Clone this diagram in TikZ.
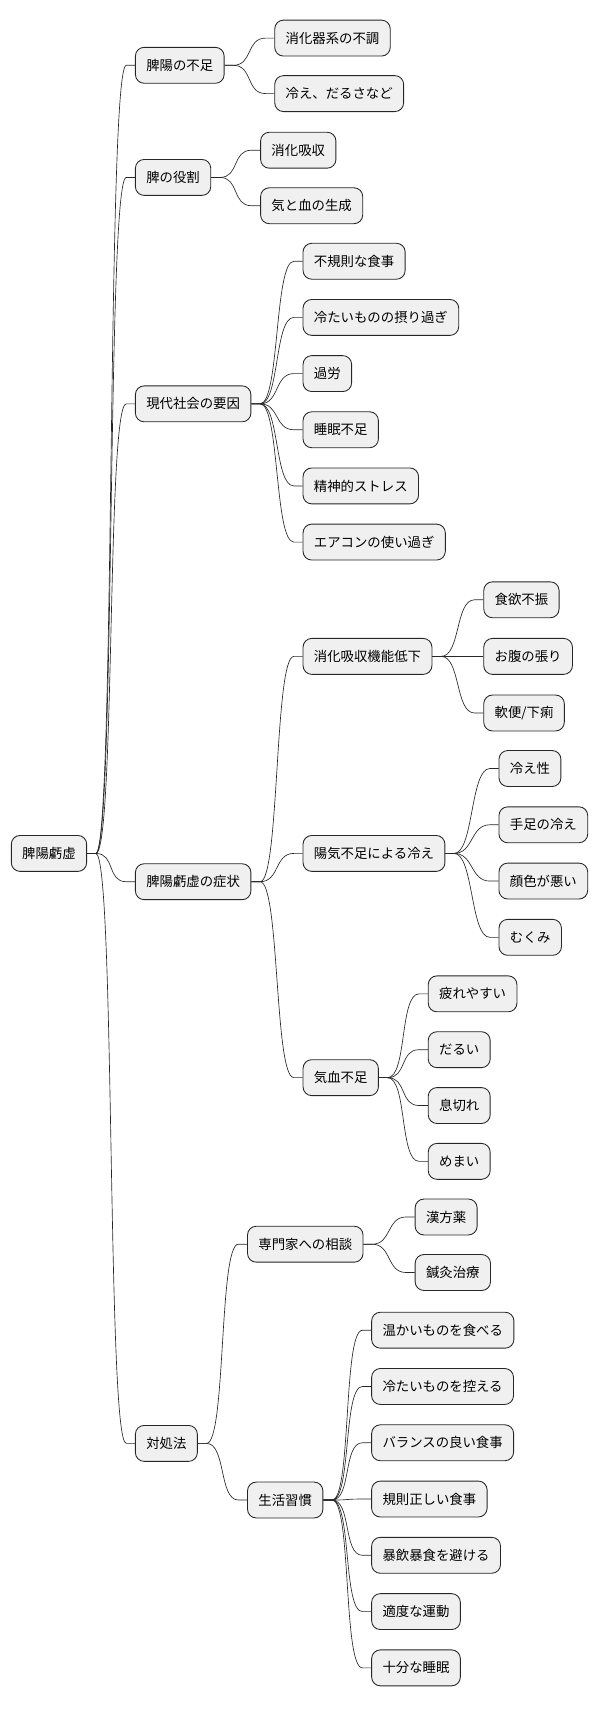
\documentclass[tikz,border=0pt]{standalone}
\usepackage{fontspec}
\setmainfont{Noto Sans CJK JP}
\usetikzlibrary{positioning}
\tikzset{
  topic/.style={draw=black!85, thick, rounded corners=8pt, fill=black!6, anchor=west,
    minimum height=33pt, inner xsep=10pt, font=\fontsize{12.3}{14}\selectfont},
  branch/.style={draw=black!85, line width=0.6pt},
}
\newcommand{\linkto}[2]{\draw[branch] (#1.east) -- ++(8pt,0) .. controls +(18pt,0) and +(-18pt,0) .. ([xshift=-8pt]#2.west) -- (#2.west);}
\begin{document}
\begin{tikzpicture}[x=1pt, y=-1pt]
  \useasboundingbox (0,0) rectangle (550,1570);
  % Root and first level
  \node [topic] (root) at (10,784) {脾陽虧虚};
  \node [topic] (lack) at (124,60) {脾陽の不足};
  \node [topic] (role) at (124,163) {脾の役割};
  \node [topic] (cause) at (124,371) {現代社会の要因};
  \node [topic] (symp) at (124,810) {脾陽虧虚の症状};
  \node [topic] (cope) at (124,1326) {対処法};
  \foreach \n in {lack,role,cause,symp,cope} {\linkto{root}{\n}}

  % Second level
  \node [topic] (lackA) at (252,35) {消化器系の不調};
  \node [topic] (lackB) at (252,86) {冷え、だるさなど};
  \node [topic] (roleA) at (239,138) {消化吸収};
  \node [topic] (roleB) at (239,189) {気と血の生成};
  \foreach \n in {lackA,lackB} {\linkto{lack}{\n}}
  \foreach \n in {roleA,roleB} {\linkto{role}{\n}}

  \foreach \t [count=\i] in {不規則な食事,冷たいものの摂り過ぎ,過労,睡眠不足,精神的ストレス,エアコンの使い過ぎ} {
    \node [topic] (cause\i) at (278,{240+(\i-1)*51.6}) {\t};
    \linkto{cause}{cause\i}
  }

  \node [topic] (digest) at (278,603) {消化吸収機能低下};
  \node [topic] (cold) at (278,784) {陽気不足による冷え};
  \node [topic] (qi) at (278,990) {気血不足};
  \foreach \n in {digest,cold,qi} {\linkto{symp}{\n}}

  \node [topic] (expert) at (227,1143) {専門家への相談};
  \node [topic] (life) at (227,1378) {生活習慣};
  \foreach \n in {expert,life} {\linkto{cope}{\n}}

  % Third level
  \foreach \t [count=\i] in {食欲不振,お腹の張り,軟便/下痢} {
    \node [topic] (digest\i) at (444,{551+(\i-1)*52}) {\t};
    \linkto{digest}{digest\i}
  }
  \foreach \t [count=\i] in {冷え性,手足の冷え,顔色が悪い,むくみ} {
    \node [topic] (cold\i) at (458,{706+(\i-1)*51.7}) {\t};
    \linkto{cold}{cold\i}
  }
  \foreach \t [count=\i] in {疲れやすい,だるい,息切れ,めまい} {
    \node [topic] (qi\i) at (393,{913+(\i-1)*51.3}) {\t};
    \linkto{qi}{qi\i}
  }
  \node [topic] (expert1) at (381,1118) {漢方薬};
  \node [topic] (expert2) at (381,1169) {鍼灸治療};
  \foreach \n in {expert1,expert2} {\linkto{expert}{\n}}
  \foreach \t [count=\i] in {温かいものを食べる,冷たいものを控える,バランスの良い食事,規則正しい食事,暴飲暴食を避ける,適度な運動,十分な睡眠} {
    \node [topic] (life\i) at (341,{1222+(\i-1)*51.7}) {\t};
    \linkto{life}{life\i}
  }
\end{tikzpicture}
\end{document}
